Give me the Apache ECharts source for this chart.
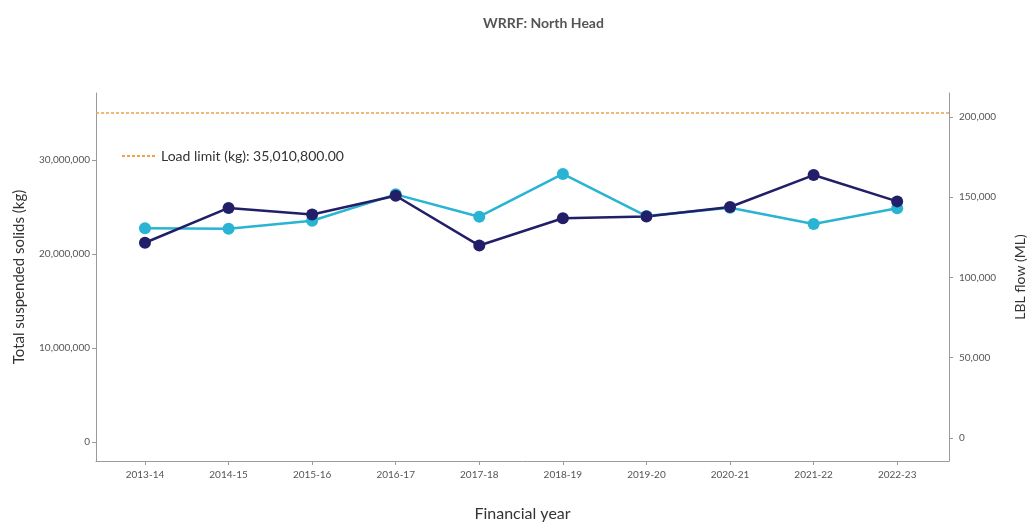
<!DOCTYPE html>
<html>
<head>
<meta charset="utf-8">
<script src="https://cdn.jsdelivr.net/npm/echarts@6/dist/echarts.min.js"></script>
<style>
  html, body { margin: 0; padding: 0; background: #fff; }
  #chart { width: 1028px; height: 522px; }
</style>
</head>
<body>
<div id="chart"></div>
<script>
// financial years on the x axis
const years = ['2013-14', '2014-15', '2015-16', '2016-17', '2017-18',
  '2018-19', '2019-20', '2020-21', '2021-22', '2022-23']

// total suspended solids load, kg (left axis)
const tssLoad = [21200000, 24900000, 24200000, 26200000, 20900000,
  23800000, 24000000, 25000000, 28400000, 25600000]

// LBL flow, ML (right axis)
const lblFlow = [130600, 130300, 135300, 151700, 137800,
  164400, 138200, 143400, 133300, 143000]

const loadLimit = 35010800

const leftTicks = [0, 10000000, 20000000, 30000000]
const rightTicks = [0, 50000, 100000, 150000, 200000]

const FONT = 'Lato'
const ORANGE = '#f2a04c'
const fmt = v => Number(v).toLocaleString('en-US')

const chart = echarts.init(document.getElementById('chart'), null, { renderer: 'canvas' })

const axisCommon = {
  axisLine: { show: true, onZero: false, lineStyle: { color: '#9a9a9a', width: 1 } },
  axisTick: { show: true, length: 4, lineStyle: { color: '#9a9a9a' } },
  splitLine: { show: false },
  nameTextStyle: { color: '#333', fontFamily: FONT, fontSize: 15 },
  axisLabel: { color: '#555', fontFamily: FONT, fontSize: 10, margin: 6 }
}

chart.setOption({
  animation: false,
  title: {
    text: 'WRRF: North Head',
    left: 478,
    top: 11,
    textStyle: { color: '#555', fontFamily: FONT, fontSize: 14, fontWeight: 'bold' }
  },
  legend: {
    left: 116,
    top: 144,
    itemWidth: 34,
    itemHeight: 10,
    itemGap: 8,
    textStyle: { color: '#333', fontFamily: FONT, fontSize: 14 },
    data: [{ name: 'Load limit (kg): 35,010,800.00', itemStyle: { opacity: 0 } }]
  },
  grid: { left: 96, right: 79, top: 93, bottom: 61, outerBoundsMode: 'none' },
  xAxis: {
    ...axisCommon,
    type: 'value',
    min: -0.586,
    max: 9.62,
    name: 'Financial year',
    nameLocation: 'middle',
    nameGap: 45,
    nameTextStyle: { ...axisCommon.nameTextStyle, fontSize: 16 },
    axisTick: { ...axisCommon.axisTick, customValues: years.map((_, i) => i) },
    axisLabel: {
      ...axisCommon.axisLabel,
      margin: 9,
      customValues: years.map((_, i) => i),
      formatter: v => years[Math.round(v)]
    }
  },
  yAxis: [{
    ...axisCommon,
    type: 'value',
    min: -2020000,
    max: 37130000,
    name: 'Total suspended solids (kg)',
    nameLocation: 'middle',
    nameGap: 69,
    axisTick: { ...axisCommon.axisTick, customValues: leftTicks },
    axisLabel: { ...axisCommon.axisLabel, customValues: leftTicks, formatter: fmt }
  }, {
    ...axisCommon,
    type: 'value',
    min: -14300,
    max: 214800,
    name: 'LBL flow (ML)',
    nameLocation: 'middle',
    nameGap: 64,
    nameRotate: 90,
    nameTextStyle: { ...axisCommon.nameTextStyle, fontSize: 14 },
    axisTick: { ...axisCommon.axisTick, customValues: rightTicks },
    axisLabel: { ...axisCommon.axisLabel, margin: 10, customValues: rightTicks, formatter: fmt }
  }],
  series: [{
    name: 'LBL flow (ML)',
    type: 'line',
    yAxisIndex: 1,
    data: lblFlow.map((v, i) => [i, v]),
    symbol: 'circle',
    symbolSize: 12,
    lineStyle: { color: '#28b4d2', width: 2.5 },
    itemStyle: { color: '#28b4d2' }
  }, {
    name: 'Total suspended solids (kg)',
    type: 'line',
    yAxisIndex: 0,
    data: tssLoad.map((v, i) => [i, v]),
    symbol: 'circle',
    symbolSize: 12,
    lineStyle: { color: '#221f68', width: 2.5 },
    itemStyle: { color: '#221f68' }
  }, {
    name: 'Load limit (kg): 35,010,800.00',
    type: 'line',
    yAxisIndex: 0,
    data: [],
    symbol: 'none',
    lineStyle: { color: ORANGE, width: 1.5, type: [3, 2] },
    itemStyle: { color: ORANGE },
    markLine: {
      silent: true,
      symbol: 'none',
      label: { show: false },
      lineStyle: { color: ORANGE, width: 1.5, type: [3, 2] },
      data: [{ yAxis: loadLimit }]
    }
  }]
})
</script>
</body>
</html>
